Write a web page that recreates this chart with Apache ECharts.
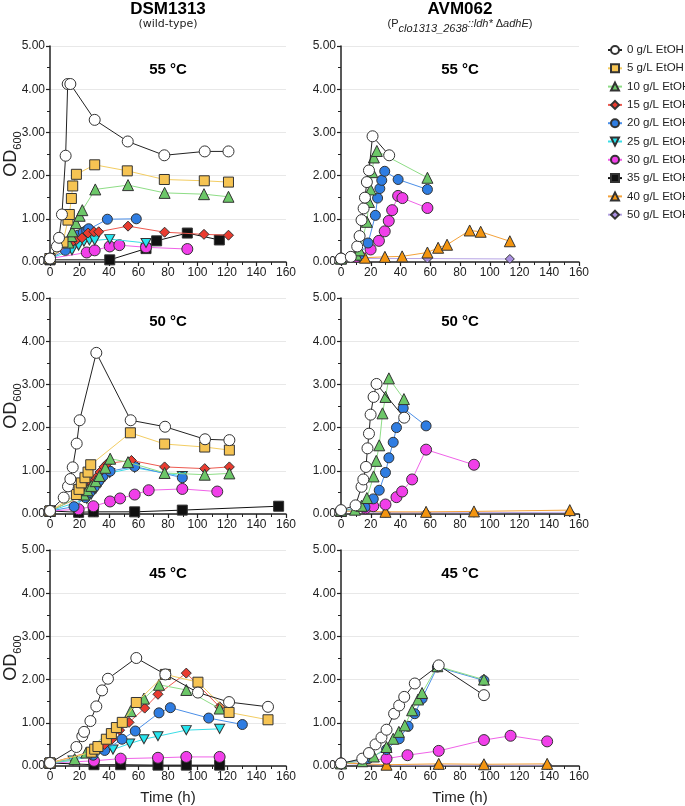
<!DOCTYPE html>
<html><head><meta charset="utf-8">
<script src="https://cdn.jsdelivr.net/npm/echarts@6/dist/echarts.min.js"></script>
<style>html,body{margin:0;padding:0;background:#fff}#c{width:685px;height:806px}</style>
</head><body><div id="c"></div>
<script>
// ---- data (hours, OD600) ----
const seriesNames = ['0 g/L EtOH','5 g/L EtOH','10 g/L EtOH','15 g/L EtOH','20 g/L EtOH','25 g/L EtOH','30 g/L EtOH','35 g/L EtOH','40 g/L EtOH','50 g/L EtOH'];
const xTicks = [0,20,40,60,80,100,120,140,160];
const yTicks = [0,1,2,3,4,5];
const panelTitles = ['55 °C','55 °C','50 °C','50 °C','45 °C','45 °C'];

// DSM1313 55 °C
const d55_0  = [[0,0.08],[4.7,0.36],[6.1,0.56],[8.1,1.10],[10.6,2.46],[12,4.12],[13.8,4.12],[30.3,3.29],[52.7,2.79],[77.5,2.47],[104.9,2.56],[121,2.56]];
const d55_5  = [[0,0.08],[8.8,0.46],[12.2,0.97],[13.1,1.10],[14.5,1.47],[15.4,1.76],[17.9,2.03],[30.3,2.25],[52.4,2.11],[77.5,1.91],[104.6,1.88],[121,1.85]];
const d55_10 = [[0,0.08],[12.5,0.45],[14.5,0.60],[15.1,0.71],[17.6,0.90],[20.1,1.07],[21.9,1.20],[30.7,1.68],[52.9,1.78],[77.7,1.60],[104.4,1.57],[121,1.51]];
const d55_15 = [[0,0.08],[14.9,0.46],[18.1,0.52],[21.7,0.56],[25.8,0.67],[29.8,0.70],[33,0.70],[52.9,0.83],[77.7,0.69],[104.4,0.64],[121,0.62]];
const d55_20 = [[0,0.08],[10.4,0.27],[19,0.62],[22.6,0.69],[24.9,0.73],[26.2,0.77],[38.9,0.99],[58.5,1.00]];
const d55_25 = [[0,0.08],[14.9,0.27],[19.4,0.38],[23,0.47],[26.7,0.50],[30.3,0.50],[40.5,0.53],[65.1,0.44]];
const d55_30 = [[0,0.08],[24.9,0.22],[30.3,0.27],[40.5,0.36],[47,0.39],[65.1,0.34],[93.1,0.30]];
const d55_35 = [[0,0.05],[40.5,0.05],[65.1,0.31],[72.3,0.49],[93.1,0.67],[114.8,0.51]];
// AVM062 55 °C
const a55_0  = [[0,0.08],[6.6,0.12],[10.9,0.36],[12.5,0.60],[13.8,0.97],[15.2,1.24],[16.1,1.49],[17.4,1.85],[18.8,2.12],[21.2,2.91],[32.4,2.47]];
const a55_10 = [[0,0.08],[10.3,0.17],[12.5,0.27],[17.4,0.93],[18.8,1.39],[19.9,1.68],[21,2.08],[22.1,2.42],[24.1,2.57],[58.1,1.95]];
const a55_20 = [[0,0.08],[12,0.15],[18.2,0.44],[23.1,1.08],[24.6,1.48],[26.1,1.70],[27.4,1.89],[29.4,2.10],[38.4,1.91],[58.1,1.68]];
const a55_30 = [[0,0.08],[10.5,0.12],[19.9,0.29],[25.5,0.49],[29.4,0.71],[32.1,0.95],[34.4,1.20],[38.4,1.53],[41.3,1.48],[58.1,1.25]];
const a55_40 = [[0,0.08],[16.1,0.10],[29.5,0.12],[41.1,0.13],[58.1,0.22],[65.3,0.33],[71.3,0.40],[86.5,0.73],[93.9,0.70],[113.5,0.48]];
const a55_50 = [[0,0.08],[58.1,0.08],[113.5,0.07]];
// DSM1313 50 °C
const d50_0  = [[0,0.07],[9.3,0.38],[12.2,0.64],[13.8,0.81],[15.4,1.08],[18.1,1.63],[20.1,2.17],[31.4,3.73],[54.7,2.17],[78,2.02],[105.1,1.73],[121.6,1.71]];
const d50_5  = [[0,0.07],[17.9,0.45],[19.7,0.57],[21.2,0.72],[23.7,0.84],[25.8,0.97],[27.6,1.14],[54.5,1.88],[77.7,1.62],[104.9,1.55],[121.6,1.48]];
const d50_10 = [[0,0.07],[23,0.45],[25.3,0.55],[28,0.65],[31,0.76],[33.5,0.88],[37.5,1.07],[40.8,1.28],[52.9,1.20],[77.7,0.95],[104.9,0.91],[121.6,0.94]];
const d50_15 = [[0,0.07],[22,0.42],[24,0.50],[26,0.60],[28.2,0.72],[31.2,0.84],[33.9,0.97],[36.6,1.09],[38.9,1.17],[55.2,1.24],[77.7,1.09],[104.9,1.05],[121.6,1.09]];
const d50_20 = [[0,0.07],[16.3,0.17],[24,0.38],[27,0.50],[30,0.62],[33,0.76],[36,0.88],[40.7,0.99],[57.4,1.10],[89.7,0.84]];
const d50_25 = [[0,0.07],[25,0.35],[28,0.45],[31,0.58],[34,0.72],[37,0.86],[40.5,0.95],[57.4,1.07],[89.7,0.88]];
const d50_30 = [[0,0.07],[19.4,0.11],[29.4,0.18],[40.7,0.29],[47.5,0.36],[57.4,0.45],[66.9,0.55],[89.7,0.58],[113.4,0.52]];
const d50_35 = [[0,0.07],[19.4,0.04],[29.4,0.05],[57.4,0.05],[89.7,0.09],[155,0.18]];
// AVM062 50 °C
const a50_0  = [[0,0.09],[9.8,0.20],[13.8,0.63],[15,0.80],[16.8,1.09],[17.8,1.52],[18.8,1.86],[19.9,2.30],[21.9,2.71],[23.9,3.01],[42.5,2.23]];
const a50_10 = [[0,0.08],[9.4,0.10],[13.8,0.19],[17.4,0.37],[21.9,0.87],[23.7,1.23],[25.7,1.59],[27.9,2.33],[29.9,2.71],[32.2,3.14],[42.3,2.66]];
const a50_20 = [[0,0.08],[16.1,0.16],[21.7,0.35],[25.7,0.55],[29.9,0.96],[32.2,1.30],[35.1,1.66],[37.3,2.00],[41.8,2.45],[57.2,2.04]];
const a50_30 = [[0,0.08],[16.5,0.13],[21.7,0.18],[29.9,0.22],[37.3,0.39],[41.1,0.52],[47.8,0.80],[57.2,1.49],[89.4,1.14]];
const a50_40 = [[0,0.07],[29.9,0.05],[57.2,0.05],[89.4,0.06],[153.8,0.09]];
const a50_50 = [[0,0.07],[29.9,0.03],[57.2,0.03],[89.4,0.03],[153.8,0.04]];
// DSM1313 45 °C
const d45_0  = [[0,0.07],[17.9,0.44],[21.9,0.69],[23.1,0.79],[27.4,1.04],[31.4,1.38],[35.3,1.75],[39.3,2.02],[58.5,2.50],[78.2,2.12],[100.3,1.70],[121.4,1.48],[147.8,1.37]];
const d45_5  = [[0,0.07],[28,0.32],[30.3,0.39],[32.5,0.45],[38.2,0.62],[41.6,0.75],[45,0.89],[49,1.01],[58.5,1.47],[78.2,2.12],[100.3,1.94],[121.4,1.24],[147.8,1.07]];
const d45_10 = [[0,0.07],[16.7,0.16],[24.6,0.31],[54.7,1.27],[63.7,1.56],[73.9,1.88],[92.4,1.76],[115,1.33]];
const d45_15 = [[0,0.07],[30,0.35],[37,0.50],[42,0.62],[47.2,0.83],[53.6,1.01],[64.2,1.34],[73.2,1.66],[92.4,2.15],[115,1.37]];
const d45_20 = [[0,0.07],[29.2,0.25],[37.1,0.36],[48.8,0.62],[57.8,0.81],[73.9,1.23],[81.6,1.35],[107.6,1.11],[130.4,0.96]];
const d45_25 = [[0,0.07],[15.6,0.13],[29.8,0.25],[42.7,0.38],[54,0.52],[63.7,0.62],[73.2,0.69],[92.4,0.83],[115,0.86]];
const d45_30 = [[0,0.07],[29.8,0.12],[47.9,0.17],[73.2,0.19],[92.4,0.21],[115,0.21]];
const d45_35 = [[0,0.07],[29.8,0.03],[47.9,0.03],[73.2,0.02],[92.4,0.02],[115,0.02]];
// AVM062 45 °C
const a45_0  = [[0,0.06],[14.3,0.17],[18.8,0.30],[23.2,0.50],[27.2,0.66],[30.6,0.84],[35.7,1.21],[39.1,1.40],[42.5,1.60],[49.6,1.91],[65.7,2.33],[96.1,1.64]];
const a45_10 = [[0,0.06],[14.3,0.11],[22.1,0.22],[30.6,0.44],[35.1,0.63],[38.9,0.79],[42.9,0.94],[47.8,1.29],[51.8,1.54],[54.5,1.69],[64.8,2.31],[96.1,2.00]];
const a45_20 = [[0,0.06],[18.3,0.17],[30.6,0.38],[39.1,0.63],[45.1,0.92],[49.6,1.21],[54.5,1.56],[64.8,2.29],[96.1,1.98]];
const a45_30 = [[0,0.06],[30.6,0.17],[44.7,0.25],[65.7,0.35],[96.1,0.60],[114,0.70],[138.6,0.57]];
const a45_40 = [[0,0.07],[30.6,0.03],[65.7,0.05],[96.1,0.04],[138.6,0.05]];
const a45_50 = [[0,0.06],[30.6,0.02],[65.7,0.02],[96.1,0.02],[138.6,0.02]];

// panel -> list of [seriesIndex, data]
const panels = [
  [[7,d55_35],[6,d55_30],[5,d55_25],[4,d55_20],[3,d55_15],[2,d55_10],[1,d55_5],[0,d55_0]],
  [[9,a55_50],[8,a55_40],[6,a55_30],[4,a55_20],[2,a55_10],[0,a55_0]],
  [[7,d50_35],[6,d50_30],[5,d50_25],[4,d50_20],[3,d50_15],[2,d50_10],[1,d50_5],[0,d50_0]],
  [[9,a50_50],[8,a50_40],[6,a50_30],[4,a50_20],[2,a50_10],[0,a50_0]],
  [[7,d45_35],[6,d45_30],[5,d45_25],[4,d45_20],[3,d45_15],[2,d45_10],[1,d45_5],[0,d45_0]],
  [[9,a45_50],[8,a45_40],[6,a45_30],[4,a45_20],[2,a45_10],[0,a45_0]]
];

// ---- styles ----
const DOWN_TRI = 'path://M0,0 L10,0 L5,9 Z';
const styles = [
  {symbol:'circle',  size:11, fill:'#ffffff', line:'#222222'},
  {symbol:'rect',    size:10, fill:'#f6c453', line:'#f3cd62'},
  {symbol:'triangle',size:11, fill:'#6cc768', line:'#8edd86'},
  {symbol:'diamond', size:10, fill:'#ea3b2f', line:'#ee5a50'},
  {symbol:'circle',  size:10, fill:'#2f7de2', line:'#4b8fe8'},
  {symbol:DOWN_TRI,  size:[10,9], fill:'#25e4ee', line:'#3adde6'},
  {symbol:'circle',  size:11, fill:'#f13fe9', line:'#f062e8'},
  {symbol:'rect',    size:10, fill:'#111111', line:'#111111'},
  {symbol:'triangle',size:11, fill:'#f4950f', line:'#f4a23a'},
  {symbol:'diamond', size:9,  fill:'#a98fe0', line:'#b8a6e6'}
];

const gridLeft = [50, 341], gridW = [236, 238], gridTop = [46, 298, 550], gridH = 216;
const FONT = 'Liberation Sans';

const grids = [], xAxes = [], yAxes = [], series = [];
for (let p = 0; p < 6; p++) {
  const col = p % 2, row = Math.floor(p / 2);
  grids.push({left: gridLeft[col], top: gridTop[row], width: gridW[col], height: gridH});
  xAxes.push({
    gridIndex: p, type: 'value', min: xTicks[0], max: xTicks[xTicks.length-1], interval: xTicks[1]-xTicks[0],
    axisLine: {lineStyle: {color: '#222', width: 1.5}},
    axisTick: {show: true, length: 4, lineStyle: {color: '#222', width: 1.2}},
    minorTick: {show: true, splitNumber: 2, length: 3, lineStyle: {color: '#222', width: 1}},
    splitLine: {show: false},
    axisLabel: {fontFamily: FONT, fontSize: 12, color: '#222', margin: 5}
  });
  yAxes.push({
    gridIndex: p, type: 'value', min: yTicks[0], max: yTicks[yTicks.length-1], interval: yTicks[1]-yTicks[0],
    axisLine: {show: true, lineStyle: {color: '#222', width: 1.5}},
    axisTick: {show: true, length: 4, lineStyle: {color: '#222', width: 1.2}},
    minorTick: {show: true, splitNumber: 2, length: 3, lineStyle: {color: '#222', width: 1}},
    splitLine: {show: true, lineStyle: {color: '#e8e8e8', width: 1}},
    axisLabel: {fontFamily: FONT, fontSize: 12, color: '#222', margin: 5, formatter: v => v.toFixed(2)}
  });
  panels[p].forEach(([si, data], k) => {
    const st = styles[si];
    series.push({
      type: 'line', name: seriesNames[si], xAxisIndex: p, yAxisIndex: p, data: data,
      symbol: st.symbol, symbolSize: st.size, showSymbol: true, showAllSymbol: true,
      itemStyle: {color: st.fill, borderColor: '#333', borderWidth: 1},
      lineStyle: {color: st.line, width: 1},
      emphasis: {disabled: true}, animation: false, z: 2 + k
    });
  });
}

const legendData = seriesNames.map(n => ({name: n}));

const graphics = [
  {type:'text', x:168, y:9, style:{text:'DSM1313', font:'bold 17px ' + FONT, fill:'#000', align:'center', verticalAlign:'middle'}},
  {type:'text', x:168, y:24, style:{text:'(wild-type)', font:'11px "DejaVu Sans"', fill:'#222', align:'center', verticalAlign:'middle'}},
  {type:'text', x:460, y:9, style:{text:'AVM062', font:'bold 17px ' + FONT, fill:'#000', align:'center', verticalAlign:'middle'}},
  {type:'text', x:460, y:24, style:{
    text:'(P{sub|clo1313_2638}{it|::ldh*} Δ{it|adhE})', fontFamily: FONT, fontSize: 11, fill:'#222', align:'center', verticalAlign:'middle',
    rich:{
      sub:{fontFamily: FONT, fontSize: 11, fontStyle:'italic', fill:'#222', verticalAlign:'bottom', lineHeight: 12},
      it:{fontFamily: FONT, fontSize: 11, fontStyle:'italic', fill:'#222', lineHeight: 20}
    }, lineHeight: 20}},
  {type:'text', x:168, y:798, style:{text:'Time (h)', font:'15px ' + FONT, fill:'#222', align:'center', verticalAlign:'middle'}},
  {type:'text', x:460, y:798, style:{text:'Time (h)', font:'15px ' + FONT, fill:'#222', align:'center', verticalAlign:'middle'}}
];
for (let p = 0; p < 6; p++) {
  const col = p % 2, row = Math.floor(p / 2);
  graphics.push({type:'text', x: gridLeft[col] + gridW[col]/2, y: gridTop[row] + 24,
    style:{text: panelTitles[p], font:'bold 15px ' + FONT, fill:'#000', align:'center', verticalAlign:'middle'}});
}
for (let row = 0; row < 3; row++) {
  graphics.push({type:'text', x: 11, y: gridTop[row] + gridH/2, rotation: Math.PI/2,
    style:{text:'OD{s|600}', fontFamily: FONT, fontSize: 18, fill:'#222', align:'center', verticalAlign:'middle', lineHeight: 24,
      rich:{s:{fontFamily: FONT, fontSize: 11, fill:'#222', verticalAlign:'bottom', lineHeight: 12}}}});
}

const chart = echarts.init(document.getElementById('c'), null, {renderer: 'canvas'});
chart.setOption({
  animation: false,
  backgroundColor: '#fff',
  grid: grids, xAxis: xAxes, yAxis: yAxes, series: series,
  legend: {
    data: legendData, orient: 'vertical', left: 602, top: 38, itemWidth: 14, itemHeight: 10, itemGap: 4.3,
    textStyle: {fontFamily: FONT, fontSize: 11.5, color: '#222', lineHeight: 14}, selectedMode: false
  },
  graphic: graphics
});
</script></body></html>
